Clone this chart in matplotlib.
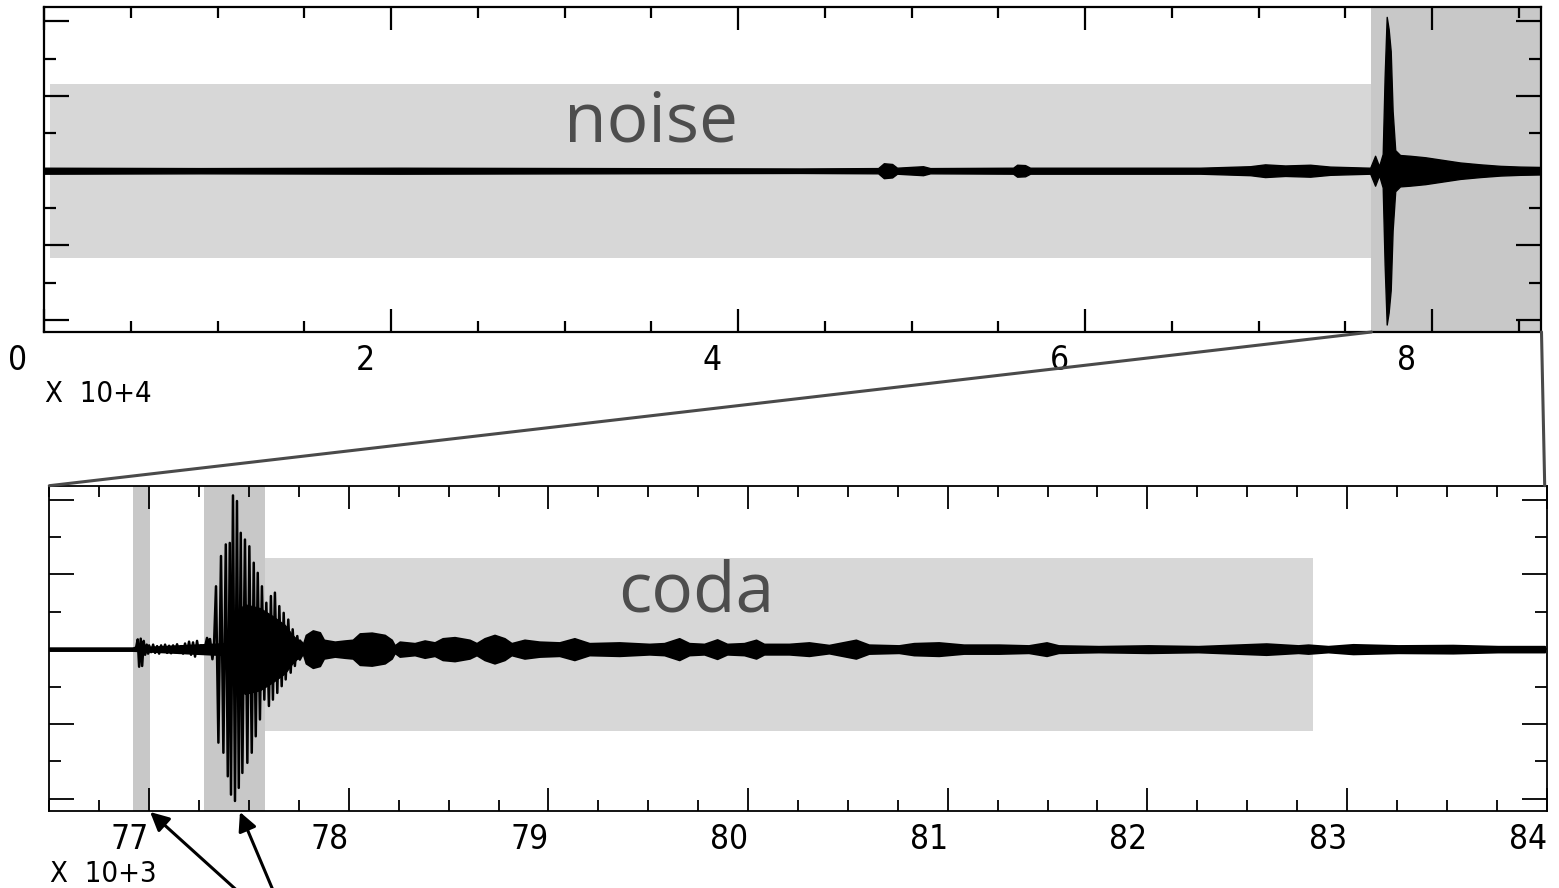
import matplotlib.pyplot as plt
from matplotlib import font_manager
from matplotlib.patches import ConnectionPatch
from matplotlib.ticker import MultipleLocator
from matplotlib.transforms import ScaledTranslation

# ==============================================
# DATA
# ==============================================
# Top panel: whole record, x in units of 10^4 samples,
# half width of the trace envelope in y-tick units
full_x = [0.0, 0.90, 2.05, 3.20, 4.36, 4.807, 4.84, 4.888, 4.916, 5.066, 5.107,
          5.585, 5.608, 5.654, 5.683, 6.086, 6.663, 6.951, 7.037, 7.153, 7.297,
          7.412, 7.643, 7.671, 7.694, 7.715, 7.726, 7.738, 7.749, 7.761, 7.772,
          7.787, 7.815, 7.873, 7.960, 8.046, 8.161, 8.277, 8.392, 8.507, 8.63]
full_amp = [0.08, 0.07, 0.08, 0.07, 0.06, 0.07, 0.20, 0.18, 0.08, 0.12, 0.07,
            0.08, 0.16, 0.15, 0.08, 0.08, 0.08, 0.12, 0.17, 0.14, 0.16,
            0.11, 0.08, 0.40, 0.12, 0.45, 2.50, 4.12, 3.80, 3.20, 1.60,
            0.55, 0.42, 0.40, 0.36, 0.30, 0.22, 0.17, 0.13, 0.11, 0.10]

noise_win = (0.035, 7.65)
noise_amp = 2.33
event_win = (7.65, 8.63)

# Bottom panel: zoom on the event, x in units of 10^3 samples
# P onset and main burst drawn as a wiggle
wave_x = [76.92, 76.935, 76.943, 76.95, 76.958, 76.965, 76.973, 76.98, 76.988, 76.995,
          77.00, 77.01, 77.02, 77.03, 77.04, 77.05, 77.06, 77.07, 77.08, 77.09,
          77.10, 77.11, 77.12, 77.13, 77.14, 77.15, 77.16, 77.17, 77.18, 77.19,
          77.20, 77.21, 77.22, 77.23, 77.24, 77.25, 77.26, 77.27, 77.28, 77.29,
          77.295, 77.30, 77.305, 77.317, 77.325,
          77.335, 77.347, 77.360, 77.372, 77.384, 77.394, 77.404, 77.410, 77.420, 77.430,
          77.440, 77.449, 77.459, 77.467, 77.480, 77.492, 77.502, 77.514, 77.524, 77.534,
          77.544, 77.555, 77.565, 77.577, 77.587, 77.600, 77.610, 77.620, 77.630, 77.642,
          77.652, 77.664, 77.674, 77.684, 77.697, 77.709, 77.719, 77.730, 77.742, 77.755,
          77.767, 77.777]
wave_y = [0.0, 0.05, 0.26, -0.47, 0.28, -0.45, 0.22, -0.15, 0.12, -0.12,
          0.10, -0.08, 0.12, -0.10, 0.08, -0.12, 0.10, -0.06, 0.12, -0.10,
          0.09, -0.11, 0.10, -0.08, 0.13, -0.10, 0.08, -0.12, 0.15, -0.10,
          0.20, -0.15, 0.18, -0.20, 0.22, -0.12, 0.10, -0.10, 0.05, 0.30,
          -0.10, 0.25, 0.27, -0.27, 0.10,
          1.68, -2.50, 2.49, -2.77, 2.80, -3.40, 2.84, -3.89, 4.11, -4.06,
          3.96, -3.71, 3.11, -3.31, 2.93, -3.04, 2.75, -2.77, 2.31, -2.33,
          2.04, -1.88, 1.68, -1.35, 1.24, -1.52, 1.42, -1.35, 1.51, -1.17,
          1.15, -0.99, 0.97, -0.81, 0.79, -0.63, 0.53, -0.45, 0.35, -0.28,
          0.17, 0.0]

# solid core of the main burst (half width)
core_x = [77.38, 77.405, 77.445, 77.48, 77.555, 77.615, 77.68, 77.715, 77.755, 77.78]
core_amp = [0.0, 0.9, 1.05, 1.2, 1.1, 0.9, 0.65, 0.4, 0.18, 0.05]

# envelope of the rest of the record (quiet part and coda)
zoom_env_x = [76.50, 76.92, 77.755, 77.77, 77.785, 77.82, 77.855, 77.875, 77.93, 77.98,
              78.02, 78.055, 78.115, 78.18, 78.215, 78.23, 78.255, 78.33, 78.38, 78.43,
              78.47, 78.53, 78.605, 78.64, 78.68, 78.73, 78.78, 78.815, 78.88, 78.955,
              79.055, 79.13, 79.205, 79.355, 79.505, 79.58, 79.655, 79.705, 79.78, 79.845,
              79.895, 79.98, 80.04, 80.08, 80.205, 80.305, 80.405, 80.54, 80.605, 80.755,
              80.83, 80.955, 81.08, 81.255, 81.405, 81.495, 81.555, 81.755, 82.005, 82.255,
              82.595, 82.755, 82.805, 82.905, 83.03, 83.255, 83.53, 83.755, 83.99]
zoom_env_amp = [0.04, 0.04, 0.25, 0.12, 0.38, 0.50, 0.45, 0.25, 0.20, 0.23,
                0.25, 0.42, 0.44, 0.38, 0.25, 0.10, 0.20, 0.16, 0.23, 0.18,
                0.29, 0.32, 0.25, 0.16, 0.29, 0.38, 0.29, 0.16, 0.25, 0.20,
                0.18, 0.29, 0.16, 0.18, 0.14, 0.16, 0.29, 0.16, 0.14, 0.26,
                0.14, 0.16, 0.25, 0.14, 0.14, 0.18, 0.11, 0.25, 0.12, 0.10,
                0.16, 0.18, 0.12, 0.12, 0.10, 0.18, 0.10, 0.08, 0.10, 0.08,
                0.15, 0.10, 0.12, 0.08, 0.13, 0.10, 0.11, 0.08, 0.08]

p_win = (76.92, 77.005)
s_win = (77.277, 77.58)
coda_win = (77.58, 82.83)
coda_band = (-2.19, 2.44)

top_ticks = [0, 2, 4, 6, 8]
bottom_ticks = [77, 78, 79, 80, 81, 82, 83, 84]

# ==============================================
# STYLE
# ==============================================
LIGHT = "#d7d7d7"
DARK = "#c8c8c8"
LABEL_GREY = "#4d4d4d"
WORD_FONT = ["Open Sans", "DejaVu Sans"]

# narrow font for the axis numbers, whatever is installed
fonts = font_manager.fontManager.ttflist
names = {f.name for f in fonts}
if "Liberation Sans Narrow" in names:
    NUM_FONT = dict(family="Liberation Sans Narrow")
elif any(f.name == "DejaVu Sans" and f.stretch == "condensed" for f in fonts):
    NUM_FONT = dict(family="DejaVu Sans", stretch="condensed")
else:
    NUM_FONT = dict(family="Liberation Sans")


def style_axes(ax, xminor, lw):
    ax.xaxis.set_minor_locator(MultipleLocator(xminor))
    ax.yaxis.set_major_locator(MultipleLocator(2))
    ax.yaxis.set_minor_locator(MultipleLocator(1))
    ax.tick_params(which="both", direction="in", top=True, right=True,
                   width=lw, colors="black")
    ax.tick_params(axis="y", which="major", length=18, labelleft=False)
    ax.tick_params(axis="y", which="minor", length=8.6)
    ax.tick_params(axis="x", which="major", length=16.5, pad=9)
    ax.tick_params(axis="x", which="minor", length=8)
    for s in ax.spines.values():
        s.set_linewidth(lw)


fig = plt.figure(figsize=(15.59, 8.88), dpi=100)

# ---------------- top panel ----------------
ax1 = fig.add_axes([0.02822, 0.62613, 0.96055, 0.36599])
ax1.set_xlim(0, 8.63)
ax1.set_ylim(-4.32, 4.385)
ax1.fill_between(noise_win, -noise_amp, noise_amp, color=LIGHT, lw=0, zorder=0)
ax1.axvspan(*event_win, color=DARK, lw=0, zorder=0)
ax1.fill_between(full_x, [-a for a in full_amp], full_amp,
                 color="black", lw=1.0, zorder=2)
ax1.text(3.5, 0.78, "noise", fontsize=50, color=LABEL_GREY,
         family=WORD_FONT, ha="center", va="baseline")
style_axes(ax1, 0.5, 1.6)
ax1.set_xticks(top_ticks, labels=[str(t) for t in top_ticks], fontsize=24, **NUM_FONT)
shift = ScaledTranslation(-26 / 100, 0, fig.dpi_scale_trans)
for lab in ax1.get_xticklabels():
    lab.set_transform(lab.get_transform() + shift)
fig.text(45 / 1559, 1 - 402 / 888, "X  10+4", fontsize=21, ha="left",
         va="baseline", **NUM_FONT)

# ---------------- bottom panel ----------------
ax2 = fig.add_axes([0.03162, 0.08705, 0.96049, 0.36599])
ax2.set_xlim(76.5, 83.99)
ax2.set_ylim(-4.32, 4.37)
ax2.axvspan(*p_win, color=DARK, lw=0, zorder=0)
ax2.axvspan(*s_win, color=DARK, lw=0, zorder=0)
ax2.fill_between(coda_win, coda_band[0], coda_band[1], color=LIGHT, lw=0, zorder=0)
ax2.fill_between(zoom_env_x, [-a for a in zoom_env_amp], zoom_env_amp,
                 color="black", lw=1.2, zorder=2)
ax2.fill_between(core_x, [-a for a in core_amp], core_amp,
                 color="black", lw=0.8, zorder=2)
ax2.plot(wave_x, wave_y, color="black", lw=1.8, zorder=3)
ax2.text(79.74, 1.0, "coda", fontsize=50, color=LABEL_GREY,
         family=WORD_FONT, ha="center", va="baseline")
style_axes(ax2, 0.25, 1.3)
ax2.set_xticks(bottom_ticks, labels=[str(t) for t in bottom_ticks], fontsize=24, **NUM_FONT)
shift2 = ScaledTranslation(-19 / 100, 0, fig.dpi_scale_trans)
for lab in ax2.get_xticklabels():
    lab.set_transform(lab.get_transform() + shift2)
fig.text(50 / 1559, 1 - 882 / 888, "X  10+3", fontsize=21, ha="left",
         va="baseline", **NUM_FONT)

# zoom connector lines
for xa, xb in [(event_win[0], 76.5), (event_win[1], 83.99)]:
    con = ConnectionPatch(xyA=(xa, 0), coordsA=ax1.get_xaxis_transform(),
                          xyB=(xb, 1), coordsB=ax2.get_xaxis_transform(),
                          color="#4a4a4a", lw=2.2)
    fig.add_artist(con)

# arrows pointing at the P and S windows
for tip, tail in [(77.005, (242, -7)), (77.455, (275, -7))]:
    ax2.annotate("", xy=(tip, -0.004), xycoords=("data", "axes fraction"),
                 xytext=tail, textcoords="figure pixels",
                 arrowprops=dict(arrowstyle="-|>", color="black", lw=2.2,
                                 mutation_scale=28, shrinkA=0, shrinkB=0),
                 annotation_clip=False)

fig.savefig("out.png", dpi=100)
